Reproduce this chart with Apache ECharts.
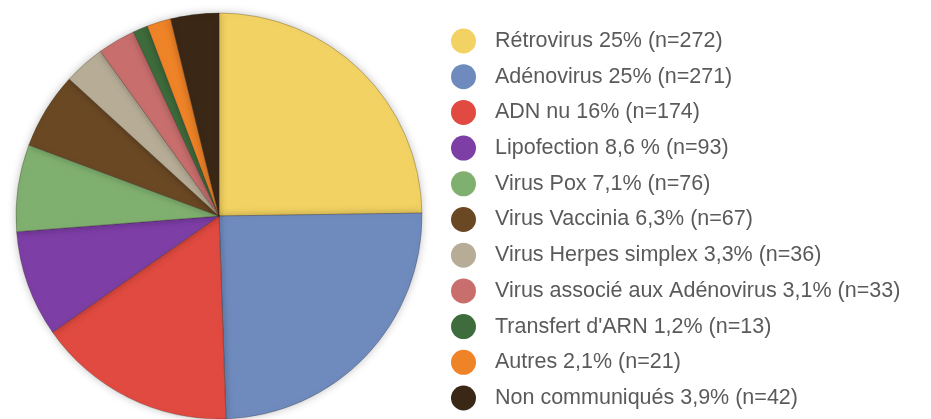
<!DOCTYPE html>
<html>
<head>
<meta charset="utf-8">
<script src="https://cdn.jsdelivr.net/npm/echarts@6/dist/echarts.min.js"></script>
<style>
  html, body { margin: 0; padding: 0; background: #fff; }
  #chart { width: 931px; height: 419px; }
</style>
</head>
<body>
<div id="chart"></div>
<script>
var names = ['Rétrovirus', 'Adénovirus', 'ADN nu', 'Lipofection', 'Virus Pox', 'Virus Vaccinia',
    'Virus Herpes simplex', 'Virus associé aux Adénovirus', "Transfert d'ARN", 'Autres', 'Non communiqués'];
var percents = ['25%', '25%', '16%', '8,6 %', '7,1%', '6,3%', '3,3%', '3,1%', '1,2%', '2,1%', '3,9%'];
var counts = [272, 271, 174, 93, 76, 67, 36, 33, 13, 21, 42];
var colors = ['#f2d262', '#6f8bbe', '#e04a40', '#7d3ea6', '#80b070', '#6a4824',
    '#b7ad97', '#c86f6e', '#3f6c3c', '#ef8327', '#3a2716'];

var myChart = echarts.init(document.getElementById('chart'));

var pieData = names.map(function (n, i) {
    return { name: n, value: counts[i] };
});

var option = {
    animation: false,
    color: colors,
    legend: {
        orient: 'vertical',
        left: 446,
        top: 23.5,
        height: 400,
        itemWidth: 25,
        itemHeight: 25,
        itemGap: 10.7,
        icon: 'circle',
        itemStyle: { borderWidth: 0, shadowBlur: 0 },
        data: names,
        formatter: function (name) {
            var i = names.indexOf(name);
            return name + ' ' + percents[i] + ' (n=' + counts[i] + ')';
        },
        textStyle: {
            fontFamily: 'Liberation Sans, Arial, sans-serif',
            fontSize: 21.5,
            lineHeight: 25,
            color: '#5a5a5a',
            padding: [0, 0, 0, 14]
        }
    },
    series: [
        {
            name: 'Vecteurs',
            type: 'pie',
            center: [219, 216],
            radius: 203,
            startAngle: 90,
            clockwise: true,
            label: { show: false },
            labelLine: { show: false },
            itemStyle: {
                borderColor: 'rgba(40,30,20,0.35)',
                borderWidth: 0.8,
                shadowBlur: 8,
                shadowColor: 'rgba(0,0,0,0.25)'
            },
            data: pieData
        }
    ]
};
myChart.setOption(option);

window.onresize = function () {
    myChart.resize();
}
</script>
</body>
</html>
